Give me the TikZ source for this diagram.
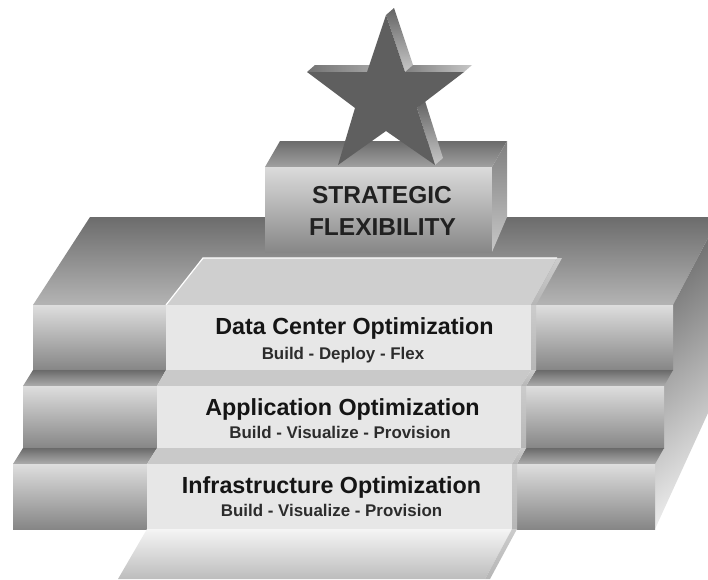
\documentclass[tikz,border=0pt]{standalone}
\usepackage{fontspec}
\setmainfont{Liberation Sans}
\definecolor{bkTopA}{HTML}{6C6C6C}
\definecolor{bkTopB}{HTML}{B4B4B4}
\definecolor{sideA}{HTML}{747474}
\definecolor{sideB}{HTML}{EAEAEA}
\definecolor{boxA}{HTML}{DEDEDE}
\definecolor{boxB}{HTML}{868686}
\definecolor{stripA}{HTML}{6A6A6A}
\definecolor{stripB}{HTML}{ACACAC}
\definecolor{bandTop}{HTML}{CFCFCF}
\definecolor{bandFront}{HTML}{E7E7E7}
\definecolor{bandStep}{HTML}{C9C9C9}
\definecolor{bevel}{HTML}{B6B6B6}
\definecolor{starFace}{HTML}{5F5F5F}
\definecolor{starEdgeA}{HTML}{646464}
\definecolor{starEdgeB}{HTML}{C8C8C8}
\definecolor{ink}{HTML}{151515}
\tikzset{
  topface/.style={top color=bkTopA, bottom color=bkTopB},
  boxfront/.style={top color=boxA, bottom color=boxB},
  boxstrip/.style={top color=stripA, bottom color=stripB},
  bandfront/.style={fill=bandFront},
  bandstep/.style={fill=bandStep},
  bandbevel/.style={top color=bevel!70!white, bottom color=bevel},
  edgelight/.style={draw=white, line width=1.2pt},
  starside/.style={top color=starEdgeA, bottom color=starEdgeB},
  title/.style={font=\bfseries\fontsize{23.3}{26}\selectfont, text=ink, anchor=base, inner sep=0pt},
  subtitle/.style={font=\bfseries\fontsize{16.9}{19}\selectfont, text=ink!90!white, anchor=base, inner sep=0pt},
  goal/.style={font=\bfseries\fontsize{24.5}{28}\selectfont, text=ink!95!white, anchor=base, inner sep=0pt}
}
\begin{document}
\begin{tikzpicture}[x=1pt,y=-1pt]
\useasboundingbox (0,0) rectangle (708,579);

% back block: top face and right side face
\shade[topface] (90,217) -- (708,217) -- (708,238) -- (673,305) -- (33,305) -- cycle;
\shade[top color=sideA, bottom color=sideB, shading angle=40]
  (673,305) -- (708,238) -- (708,413) -- (655,529) -- (655,305) -- cycle;

% stepped side blocks, left and right
\shade[boxfront] (33,305) rectangle (166,370);
\shade[boxfront] (536,305) rectangle (673,370);
\shade[boxstrip] (33,370) -- (166,370) -- (157,386) -- (23,386) -- cycle;
\shade[boxstrip] (536,370) -- (673,370) -- (664,386) -- (526,386) -- cycle;
\shade[boxfront] (23,386) rectangle (157,448);
\shade[boxfront] (526,386) rectangle (664,448);
\shade[boxstrip] (23,448) -- (157,448) -- (147,464) -- (13,464) -- cycle;
\shade[boxstrip] (526,448) -- (664,448) -- (655,464) -- (517,464) -- cycle;
\shade[boxfront] (13,464) rectangle (147,529);
\shade[boxfront] (517,464) rectangle (655,529);

% central light staircase
\fill[bandTop] (203,258) -- (557,258) -- (531,305) -- (166,305) -- cycle;
\shade[bandbevel] (557,258) -- (562,258) -- (536,305) -- (531,305) -- cycle;
\draw[edgelight] (166,305) -- (203,258) -- (557,258);
\fill[bandfront] (166,305) rectangle (531,370);
\shade[bandbevel] (531,305) rectangle (536,370);
\fill[bandstep] (166,370) -- (531,370) -- (521,386) -- (157,386) -- cycle;
\shade[bandbevel] (531,370) -- (536,370) -- (526,386) -- (521,386) -- cycle;
\fill[bandfront] (157,386) rectangle (521,448);
\shade[bandbevel] (521,386) rectangle (526,448);
\fill[bandstep] (157,448) -- (521,448) -- (512,464) -- (147,464) -- cycle;
\shade[bandbevel] (521,448) -- (526,448) -- (517,464) -- (512,464) -- cycle;
\fill[bandfront] (147,464) rectangle (512,529);
\shade[bandbevel] (512,464) rectangle (517,529);
\shade[top color=white!96!black, bottom color=black!26] (147,529) -- (512,529) -- (485,579) -- (118,579) -- cycle;
\shade[bandbevel] (512,529) -- (517,529) -- (490,579) -- (485,579) -- cycle;

% pedestal
\shade[top color=black!58, bottom color=black!37] (280,141) -- (507,141) -- (492,167) -- (265,167) -- cycle;
\shade[top color=black!14, bottom color=black!47] (265,167) rectangle (492,252);
\shade[top color=black!50, bottom color=black!22] (492,167) -- (507,141) -- (507,217) -- (492,252) -- cycle;

% star: extruded edges, then the front face
\shade[starside] (386,15) -- (405,72) -- (413,65) -- (394,8) -- cycle;
\shade[left color=black!50, right color=black!22] (405,72) -- (464,72) -- (472,65) -- (413,65) -- cycle;
\shade[starside] (417,108) -- (435,165) -- (443,158) -- (425,101) -- cycle;
\shade[left color=black!55, right color=black!35] (307,72) -- (367,72) -- (375,65) -- (315,65) -- cycle;
\fill[starFace] (386,15) -- (405,72) -- (464,72) -- (417,108) -- (435,165)
  -- (386,131) -- (338,165) -- (355,108) -- (307,72) -- (367,72) -- cycle;

% labels
\node[goal] (goal1) at (382,203) {STRATEGIC};
\node[goal] (goal2) at (382.5,235) {FLEXIBILITY};
\node[title] (dc) at (354.5,334) {Data Center Optimization};
\node[subtitle] (dcsub) at (343,359) {Build - Deploy - Flex};
\node[title] (app) at (342.5,415) {Application Optimization};
\node[subtitle] (appsub) at (340,438) {Build - Visualize - Provision};
\node[title] (infra) at (331.5,493) {Infrastructure Optimization};
\node[subtitle] (infrasub) at (331.5,516) {Build - Visualize - Provision};
\end{tikzpicture}
\end{document}
